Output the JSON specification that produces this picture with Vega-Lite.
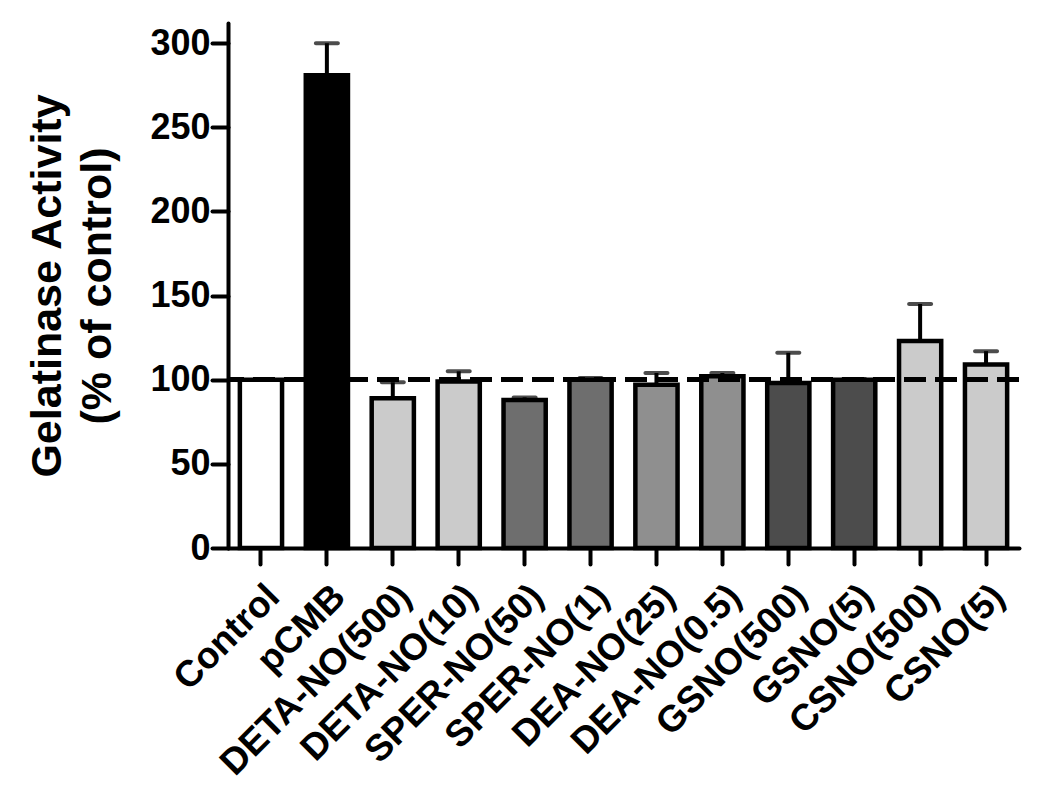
{
  "$schema": "https://vega.github.io/schema/vega-lite/v6.json",
  "width": 791,
  "height": 525,
  "autosize": {"type": "none"},
  "padding": {"left": 228, "top": 23, "right": 31, "bottom": 247},
  "background": "white",
  "config": {
    "view": {"stroke": null},
    "font": "Liberation Sans",
    "axis": {
      "labelFont": "Liberation Sans",
      "titleFont": "Liberation Sans",
      "labelFontWeight": "bold",
      "titleFontWeight": "bold",
      "labelColor": "black",
      "titleColor": "black",
      "domainColor": "black",
      "tickColor": "black",
      "domainWidth": 4,
      "tickWidth": 4,
      "tickSize": 16,
      "domainCap": "round",
      "tickCap": "round",
      "grid": false
    }
  },
  "data": {
    "values": [
      {"treatment": "Control", "value": 100, "err": 0, "group": "Control"},
      {"treatment": "pCMB", "value": 281, "err": 19, "group": "pCMB"},
      {"treatment": "DETA-NO(500)", "value": 89, "err": 9.5, "group": "DETA"},
      {"treatment": "DETA-NO(10)", "value": 99, "err": 6, "group": "DETA"},
      {"treatment": "SPER-NO(50)", "value": 88, "err": 1.5, "group": "SPER"},
      {"treatment": "SPER-NO(1)", "value": 100, "err": 1, "group": "SPER"},
      {"treatment": "DEA-NO(25)", "value": 97, "err": 7, "group": "DEA"},
      {"treatment": "DEA-NO(0.5)", "value": 102, "err": 2, "group": "DEA"},
      {"treatment": "GSNO(500)", "value": 98, "err": 18, "group": "GSNO"},
      {"treatment": "GSNO(5)", "value": 100, "err": 0.5, "group": "GSNO"},
      {"treatment": "CSNO(500)", "value": 123, "err": 22, "group": "CSNO"},
      {"treatment": "CSNO(5)", "value": 109, "err": 8, "group": "CSNO"}
    ]
  },
  "encoding": {
    "x": {
      "field": "treatment",
      "type": "nominal",
      "sort": null,
      "scale": {
        "domain": ["Control", "pCMB", "DETA-NO(500)", "DETA-NO(10)", "SPER-NO(50)", "SPER-NO(1)", "DEA-NO(25)", "DEA-NO(0.5)", "GSNO(500)", "GSNO(5)", "CSNO(500)", "CSNO(5)"],
        "paddingInner": 0.36,
        "paddingOuter": 0.18
      },
      "axis": {
        "title": null,
        "labelAngle": -45,
        "labelFontSize": 37,
        "labelPadding": 14,
        "labelLimit": 0,
        "domainWidth": 4
      }
    }
  },
  "layer": [
    {
      "transform": [{"filter": "datum.err > 0"}, {"calculate": "datum.value + datum.err", "as": "hi"}],
      "mark": {"type": "rule", "strokeWidth": 4, "color": "black"},
      "encoding": {
        "y": {"field": "value", "type": "quantitative"},
        "y2": {"field": "hi"}
      }
    },
    {
      "transform": [{"filter": "datum.err > 0"}, {"calculate": "datum.value + datum.err", "as": "hi"}],
      "mark": {"type": "tick", "size": 26, "thickness": 4, "color": "black", "cornerRadius": 2},
      "encoding": {
        "y": {"field": "hi", "type": "quantitative"}
      }
    },
    {
      "mark": {"type": "bar", "stroke": "black", "strokeWidth": 4.5},
      "encoding": {
        "y": {
          "field": "value",
          "type": "quantitative",
          "scale": {"domain": [0, 312], "nice": false},
          "axis": {
            "values": [0, 50, 100, 150, 200, 250, 300],
            "labelFontSize": 36,
            "labelPadding": 2,
            "title": ["Gelatinase Activity", "(% of control)"],
            "titleFontSize": 43,
            "titleLineHeight": 50,
            "titlePadding": 30
          }
        },
        "fill": {
          "field": "group",
          "type": "nominal",
          "scale": {
            "domain": ["Control", "pCMB", "DETA", "SPER", "DEA", "GSNO", "CSNO"],
            "range": ["#ffffff", "#000000", "#cbcbcb", "#6e6e6e", "#8f8f8f", "#4c4c4c", "#cbcbcb"]
          },
          "legend": null
        }
      }
    },
    {
      "mark": {"type": "rule", "strokeWidth": 4.5, "strokeDash": [22, 9], "color": "black"},
      "encoding": {
        "y": {"datum": 100, "type": "quantitative"},
        "x": null
      }
    }
  ]
}
